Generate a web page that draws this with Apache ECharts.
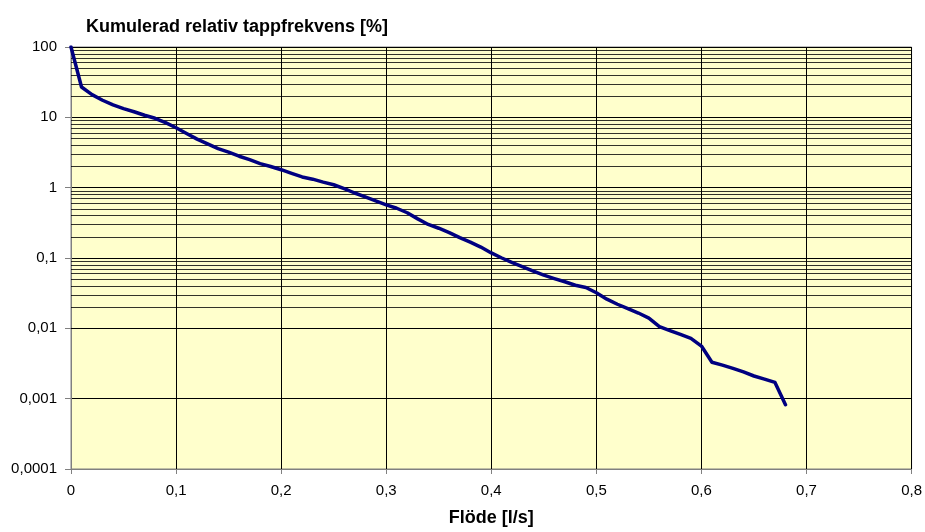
<!DOCTYPE html>
<html>
<head>
<meta charset="utf-8">
<script src="https://cdn.jsdelivr.net/npm/echarts@6/dist/echarts.min.js"></script>
<style>
  html, body { margin: 0; padding: 0; background: #fff; }
  #main { width: 925px; height: 532px; }
</style>
</head>
<body>
<div id="main"></div>
<script>
// flöde [l/s]
var flow = [0, 0.01, 0.02, 0.03, 0.04, 0.05, 0.06, 0.07, 0.08, 0.09,
    0.10, 0.11, 0.12, 0.13, 0.14, 0.15, 0.16, 0.17, 0.18, 0.19,
    0.20, 0.21, 0.22, 0.23, 0.24, 0.25, 0.26, 0.27, 0.28, 0.29,
    0.30, 0.31, 0.32, 0.33, 0.34, 0.35, 0.36, 0.37, 0.38, 0.39,
    0.40, 0.41, 0.42, 0.43, 0.44, 0.45, 0.46, 0.47, 0.48, 0.49,
    0.50, 0.51, 0.52, 0.53, 0.54, 0.55, 0.56, 0.57, 0.58, 0.59,
    0.60, 0.61, 0.62, 0.63, 0.64, 0.65, 0.66, 0.67, 0.68];
// kumulerad relativ tappfrekvens [%]
var freq = [100, 27, 21, 17.5, 15, 13.3, 12, 10.7, 9.7, 8.4,
    7.1, 5.9, 4.9, 4.2, 3.6, 3.2, 2.8, 2.5, 2.2, 2.0,
    1.8, 1.6, 1.42, 1.32, 1.2, 1.1, 0.97, 0.84, 0.74, 0.65,
    0.57, 0.51, 0.44, 0.36, 0.30, 0.265, 0.23, 0.195, 0.168, 0.143,
    0.118, 0.10, 0.086, 0.075, 0.065, 0.057, 0.051, 0.046, 0.041, 0.038,
    0.032, 0.026, 0.022, 0.019, 0.0165, 0.014, 0.0106, 0.0093, 0.0082, 0.0072,
    0.0056, 0.0033, 0.003, 0.0027, 0.0024, 0.0021, 0.0019, 0.0017, 0.00082];

var decades = [0.0001, 0.001, 0.01, 0.1, 1, 10, 100];
var decadeLabels = ['0,0001', '0,001', '0,01', '0,1', '1', '10', '100'];
var minorSteps = [2, 3, 4, 5, 6, 7, 8, 9];

var myChart = echarts.init(document.getElementById('main'));

// mellanlinjer 2..9 i varje dekad
var minorLines = [];
for (var i = 0; i < decades.length - 1; i++) {
    for (var j = 0; j < minorSteps.length; j++) {
        minorLines.push({ yAxis: decades[i] * minorSteps[j] });
    }
}

var points = flow.map(function (x, i) { return [x, freq[i]]; });

var font = 'Arial, "Liberation Sans", sans-serif';

option = {
    animation: false,
    title: {
        text: 'Kumulerad relativ tappfrekvens [%]',
        left: 81,
        top: 13,
        textStyle: { fontFamily: font, fontSize: 18, fontWeight: 'bold', color: '#000' }
    },
    grid: {
        left: 71,
        right: 12,
        top: 47,
        bottom: 61,
        show: true,
        backgroundColor: '#FFFFCC',
        borderColor: '#808080',
        borderWidth: 1
    },
    xAxis: {
        type: 'value',
        min: 0,
        max: 0.8,
        interval: 0.1,
        name: 'Flöde [l/s]',
        nameLocation: 'middle',
        nameGap: 40,
        nameTextStyle: { fontFamily: font, fontSize: 18, fontWeight: 'bold', color: '#000' },
        axisLine: { lineStyle: { color: '#808080', width: 1 } },
        axisTick: { show: true, length: 5, lineStyle: { color: '#808080' } },
        axisLabel: {
            margin: 14,
            fontFamily: font,
            fontSize: 15,
            color: '#000',
            formatter: function (v) {
                return v === 0 ? '0' : v.toFixed(1).replace('.', ',');
            }
        },
        splitLine: { show: true, lineStyle: { color: '#000', width: 1 } }
    },
    yAxis: {
        type: 'log',
        logBase: 10,
        min: 0.0001,
        max: 100,
        axisLine: { show: true, lineStyle: { color: '#808080', width: 1 } },
        axisTick: { show: true, length: 6, lineStyle: { color: '#808080' } },
        axisLabel: {
            margin: 14,
            fontFamily: font,
            fontSize: 15,
            color: '#000',
            formatter: function (v) {
                var k = Math.round(Math.log10(v));
                var idx = decades.findIndex(function (d) { return Math.round(Math.log10(d)) === k; });
                return idx >= 0 ? decadeLabels[idx] : '';
            }
        },
        splitLine: { show: true, lineStyle: { color: '#000', width: 1 } }
    },
    series: [
        {
            type: 'line',
            data: points,
            showSymbol: false,
            symbol: 'none',
            smooth: false,
            lineStyle: { color: '#000080', width: 3.5, join: 'round', cap: 'round' },
            markLine: {
                silent: true,
                symbol: 'none',
                label: { show: false },
                lineStyle: { color: '#000', width: 1, type: 'solid', opacity: 0.8 },
                data: minorLines,
                z: 1
            },
            z: 3
        }
    ]
};

myChart.setOption(option);

window.onresize = function () {
    myChart.resize();
};
</script>
</body>
</html>
